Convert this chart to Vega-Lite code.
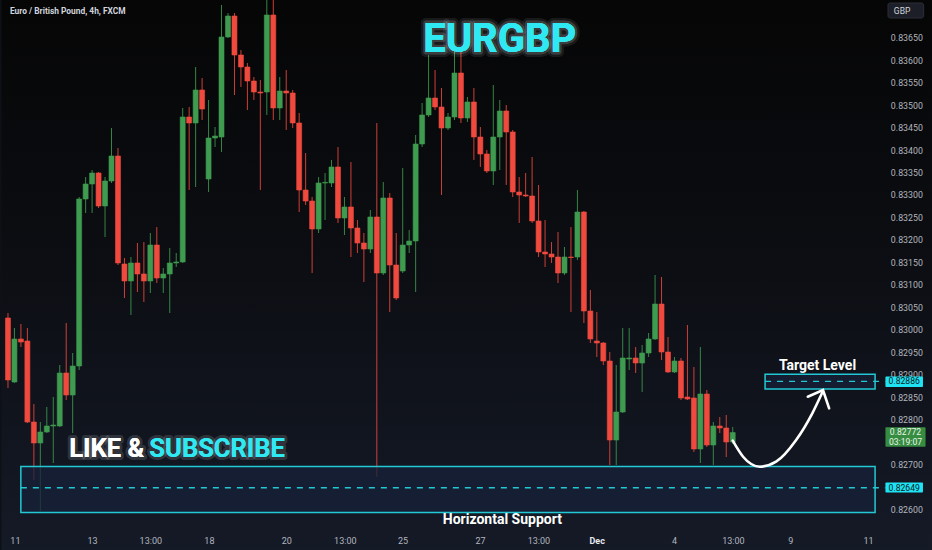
{
  "$schema": "https://vega.github.io/schema/vega-lite/v6.json",
  "width": 885,
  "height": 530,
  "autosize": {"type": "none"},
  "padding": {"left": 0, "top": 0, "right": 47, "bottom": 20},
  "background": "#0d1017",
  "config": {"view": {"stroke": null}},
  "datasets": {
    "candles": [
      {"i":0,"o":0.830271,"h":0.830382,"l":0.828712,"c":0.82889},
      {"i":1,"o":0.828845,"h":0.830048,"l":0.828823,"c":0.829803},
      {"i":2,"o":0.829803,"h":0.830137,"l":0.829625,"c":0.829736},
      {"i":3,"o":0.829758,"h":0.830048,"l":0.827932,"c":0.827954},
      {"i":4,"o":0.827954,"h":0.828355,"l":0.826662,"c":0.827487},
      {"i":5,"o":0.827487,"h":0.827954,"l":0.825972,"c":0.827732},
      {"i":6,"o":0.827732,"h":0.828288,"l":0.827709,"c":0.827865},
      {"i":7,"o":0.827865,"h":0.828511,"l":0.827041,"c":0.827887},
      {"i":8,"o":0.827865,"h":0.829224,"l":0.827843,"c":0.829046},
      {"i":9,"o":0.829046,"h":0.830159,"l":0.828444,"c":0.828556},
      {"i":10,"o":0.828556,"h":0.829491,"l":0.827709,"c":0.829201},
      {"i":11,"o":0.829201,"h":0.832965,"l":0.829112,"c":0.832921},
      {"i":12,"o":0.832921,"h":0.833411,"l":0.832609,"c":0.833255},
      {"i":13,"o":0.833255,"h":0.833567,"l":0.832609,"c":0.8335},
      {"i":14,"o":0.8335,"h":0.833522,"l":0.83272,"c":0.832765},
      {"i":15,"o":0.832765,"h":0.833411,"l":0.832075,"c":0.833322},
      {"i":16,"o":0.833322,"h":0.834502,"l":0.833277,"c":0.833879},
      {"i":17,"o":0.833879,"h":0.834057,"l":0.831451,"c":0.831496},
      {"i":18,"o":0.831473,"h":0.831607,"l":0.830716,"c":0.831095},
      {"i":19,"o":0.831095,"h":0.831629,"l":0.830337,"c":0.831496},
      {"i":20,"o":0.831496,"h":0.831941,"l":0.83085,"c":0.831251},
      {"i":21,"o":0.831251,"h":0.831963,"l":0.830627,"c":0.831095},
      {"i":22,"o":0.831095,"h":0.832164,"l":0.830827,"c":0.831896},
      {"i":23,"o":0.831896,"h":0.832297,"l":0.83105,"c":0.831161},
      {"i":24,"o":0.831161,"h":0.831384,"l":0.830827,"c":0.831251},
      {"i":25,"o":0.831251,"h":0.83183,"l":0.830382,"c":0.831496},
      {"i":26,"o":0.831496,"h":0.831718,"l":0.831406,"c":0.831518},
      {"i":27,"o":0.831518,"h":0.834948,"l":0.831496,"c":0.834747},
      {"i":28,"o":0.834747,"h":0.83497,"l":0.833121,"c":0.834614},
      {"i":29,"o":0.834614,"h":0.835861,"l":0.833188,"c":0.835349},
      {"i":30,"o":0.835349,"h":0.835616,"l":0.83468,"c":0.834925},
      {"i":31,"o":0.833366,"h":0.835126,"l":0.833077,"c":0.834279},
      {"i":32,"o":0.834279,"h":0.834524,"l":0.834079,"c":0.834324},
      {"i":33,"o":0.834302,"h":0.837242,"l":0.833968,"c":0.836529},
      {"i":34,"o":0.836529,"h":0.837063,"l":0.836507,"c":0.836997},
      {"i":35,"o":0.836997,"h":0.837063,"l":0.835237,"c":0.836128},
      {"i":36,"o":0.836128,"h":0.836239,"l":0.835415,"c":0.835861},
      {"i":37,"o":0.835861,"h":0.83595,"l":0.834903,"c":0.835549},
      {"i":38,"o":0.835549,"h":0.835638,"l":0.835126,"c":0.835304},
      {"i":39,"o":0.835304,"h":0.835571,"l":0.833121,"c":0.835282},
      {"i":40,"o":0.835304,"h":0.83745,"l":0.834792,"c":0.837019},
      {"i":41,"o":0.837019,"h":0.83745,"l":0.83468,"c":0.834948},
      {"i":42,"o":0.834948,"h":0.835638,"l":0.83468,"c":0.835326},
      {"i":43,"o":0.835326,"h":0.835794,"l":0.834458,"c":0.835282},
      {"i":44,"o":0.835282,"h":0.835349,"l":0.834502,"c":0.834614},
      {"i":45,"o":0.834614,"h":0.834836,"l":0.832631,"c":0.833121},
      {"i":46,"o":0.833121,"h":0.833945,"l":0.832787,"c":0.832876},
      {"i":47,"o":0.832876,"h":0.832965,"l":0.831273,"c":0.832253},
      {"i":48,"o":0.832253,"h":0.833411,"l":0.832164,"c":0.833277},
      {"i":49,"o":0.833277,"h":0.8335,"l":0.832453,"c":0.83329},
      {"i":50,"o":0.833277,"h":0.83379,"l":0.833188,"c":0.833634},
      {"i":51,"o":0.833634,"h":0.834079,"l":0.832386,"c":0.832498},
      {"i":52,"o":0.832498,"h":0.832965,"l":0.832119,"c":0.832743},
      {"i":53,"o":0.832743,"h":0.833745,"l":0.831629,"c":0.832275},
      {"i":54,"o":0.832275,"h":0.832453,"l":0.831718,"c":0.831941},
      {"i":55,"o":0.831941,"h":0.832164,"l":0.831072,"c":0.831807},
      {"i":56,"o":0.831807,"h":0.832676,"l":0.831718,"c":0.83252},
      {"i":57,"o":0.83252,"h":0.834614,"l":0.826729,"c":0.831273},
      {"i":58,"o":0.831273,"h":0.8333,"l":0.831228,"c":0.832943},
      {"i":59,"o":0.832943,"h":0.833055,"l":0.830404,"c":0.831451},
      {"i":60,"o":0.831451,"h":0.832164,"l":0.830671,"c":0.830716},
      {"i":61,"o":0.831317,"h":0.833611,"l":0.831273,"c":0.831896},
      {"i":62,"o":0.831896,"h":0.83223,"l":0.831718,"c":0.831985},
      {"i":63,"o":0.831985,"h":0.834346,"l":0.83085,"c":0.834146},
      {"i":64,"o":0.834146,"h":0.835059,"l":0.834079,"c":0.834792},
      {"i":65,"o":0.834792,"h":0.836128,"l":0.834747,"c":0.83517},
      {"i":66,"o":0.83517,"h":0.835794,"l":0.834903,"c":0.83497},
      {"i":67,"o":0.83497,"h":0.835393,"l":0.83301,"c":0.834502},
      {"i":68,"o":0.834502,"h":0.834836,"l":0.834458,"c":0.834747},
      {"i":69,"o":0.834747,"h":0.836239,"l":0.83468,"c":0.835727},
      {"i":70,"o":0.835727,"h":0.836195,"l":0.834614,"c":0.834725},
      {"i":71,"o":0.834725,"h":0.835193,"l":0.834636,"c":0.835081},
      {"i":72,"o":0.835081,"h":0.835393,"l":0.83379,"c":0.834302},
      {"i":73,"o":0.834302,"h":0.834524,"l":0.833634,"c":0.833923},
      {"i":74,"o":0.833923,"h":0.834012,"l":0.8335,"c":0.833545},
      {"i":75,"o":0.833545,"h":0.83546,"l":0.833233,"c":0.834302},
      {"i":76,"o":0.834302,"h":0.835126,"l":0.833567,"c":0.834881},
      {"i":77,"o":0.834881,"h":0.835014,"l":0.833233,"c":0.834413},
      {"i":78,"o":0.834413,"h":0.834458,"l":0.832965,"c":0.833077},
      {"i":79,"o":0.833077,"h":0.833411,"l":0.832386,"c":0.83301},
      {"i":80,"o":0.83301,"h":0.8335,"l":0.832965,"c":0.832988},
      {"i":81,"o":0.832988,"h":0.833856,"l":0.832386,"c":0.832431},
      {"i":82,"o":0.832431,"h":0.833233,"l":0.831629,"c":0.831741},
      {"i":83,"o":0.831741,"h":0.832453,"l":0.831406,"c":0.831696},
      {"i":84,"o":0.831696,"h":0.831963,"l":0.831496,"c":0.831629},
      {"i":85,"o":0.831629,"h":0.832186,"l":0.83105,"c":0.831273},
      {"i":86,"o":0.831273,"h":0.831852,"l":0.831228,"c":0.831629},
      {"i":87,"o":0.831629,"h":0.832297,"l":0.830404,"c":0.831618},
      {"i":88,"o":0.831629,"h":0.833121,"l":0.831562,"c":0.832631},
      {"i":89,"o":0.832631,"h":0.832654,"l":0.830159,"c":0.830426},
      {"i":90,"o":0.830426,"h":0.830894,"l":0.829714,"c":0.829803},
      {"i":91,"o":0.829758,"h":0.830404,"l":0.829402,"c":0.829714},
      {"i":92,"o":0.829714,"h":0.829736,"l":0.829224,"c":0.829313},
      {"i":93,"o":0.829313,"h":0.829513,"l":0.826997,"c":0.827553},
      {"i":94,"o":0.827553,"h":0.829224,"l":0.826997,"c":0.828177},
      {"i":95,"o":0.828177,"h":0.830048,"l":0.828155,"c":0.82938},
      {"i":96,"o":0.829357,"h":0.830048,"l":0.829112,"c":0.82938},
      {"i":97,"o":0.82938,"h":0.829625,"l":0.829046,"c":0.829268},
      {"i":98,"o":0.829268,"h":0.829669,"l":0.828622,"c":0.829491},
      {"i":99,"o":0.829491,"h":0.829936,"l":0.829402,"c":0.829803},
      {"i":100,"o":0.829803,"h":0.831228,"l":0.82978,"c":0.830582},
      {"i":101,"o":0.830582,"h":0.831184,"l":0.829335,"c":0.829513},
      {"i":102,"o":0.829513,"h":0.829847,"l":0.829046,"c":0.829068},
      {"i":103,"o":0.829068,"h":0.829402,"l":0.829046,"c":0.829313},
      {"i":104,"o":0.829313,"h":0.82938,"l":0.828444,"c":0.828489},
      {"i":105,"o":0.828511,"h":0.830115,"l":0.828444,"c":0.828466},
      {"i":106,"o":0.828489,"h":0.829179,"l":0.827286,"c":0.827353},
      {"i":107,"o":0.827353,"h":0.829625,"l":0.827041,"c":0.828578},
      {"i":108,"o":0.828578,"h":0.828667,"l":0.827397,"c":0.827442},
      {"i":109,"o":0.827442,"h":0.827954,"l":0.826997,"c":0.827865},
      {"i":110,"o":0.827865,"h":0.828066,"l":0.827709,"c":0.827821},
      {"i":111,"o":0.827821,"h":0.82811,"l":0.827175,"c":0.827509},
      {"i":112,"o":0.827509,"h":0.827843,"l":0.827464,"c":0.82772}
    ],
    "yticks": [
      {"p":0.826,"t":"0.82600"},{"p":0.827,"t":"0.82700"},{"p":0.828,"t":"0.82800"},{"p":0.8285,"t":"0.82850"},
      {"p":0.829,"t":"0.82900"},{"p":0.8295,"t":"0.82950"},{"p":0.83,"t":"0.83000"},{"p":0.8305,"t":"0.83050"},
      {"p":0.831,"t":"0.83100"},{"p":0.8315,"t":"0.83150"},{"p":0.832,"t":"0.83200"},{"p":0.8325,"t":"0.83250"},
      {"p":0.833,"t":"0.83300"},{"p":0.8335,"t":"0.83350"},{"p":0.834,"t":"0.83400"},{"p":0.8345,"t":"0.83450"},
      {"p":0.835,"t":"0.83500"},{"p":0.8355,"t":"0.83550"},{"p":0.836,"t":"0.83600"},{"p":0.8365,"t":"0.83650"}
    ],
    "xticks": [
      {"i":1.15,"t":"11"},{"i":13.06,"t":"13"},{"i":22.07,"t":"13:00"},{"i":31.13,"t":"18"},{"i":43.09,"t":"20"},
      {"i":52.13,"t":"13:00"},{"i":61.04,"t":"25"},{"i":73.03,"t":"27"},{"i":82.05,"t":"13:00"},{"i":91.06,"t":"Dec"},
      {"i":103,"t":"4"},{"i":112.1,"t":"13:00"},{"i":120.96,"t":"9"},{"i":133,"t":"11"}
    ],
    "zones": [
      {"name":"support","i":1.99,"i2":134.0,"p":0.826963,"p2":0.825939},
      {"name":"target","i":117.0,"i2":134.0,"p":0.829017,"p2":0.828689}
    ],
    "levels": [
      {"name":"support","i":1.99,"i2":135.6,"p":0.82649},
      {"name":"target","i":117.0,"i2":135.6,"p":0.82886}
    ],
    "arrow": [
      {"k":0,"i":112.0,"p":0.827538},
      {"k":1,"i":113.6,"p":0.827181},
      {"k":2,"i":116.2,"p":0.826959},
      {"k":3,"i":118.7,"p":0.82707},
      {"k":4,"i":121.8,"p":0.827553},
      {"k":5,"i":124.3,"p":0.828148},
      {"k":6,"i":125.9,"p":0.828629}
    ],
    "head": [
      {"k":0,"i":123.6,"p":0.828518},
      {"k":1,"i":125.95,"p":0.828667},
      {"k":2,"i":126.9,"p":0.828259}
    ],
    "tags": [
      {"kind":"level","i":135.6,"i2":141.4,"p":0.828968,"p2":0.828734},
      {"kind":"level","i":135.6,"i2":141.4,"p":0.826607,"p2":0.826384},
      {"kind":"last","i":135.6,"i2":141.8,"p":0.827836,"p2":0.827404}
    ],
    "tagtext": [
      {"kind":"level","i":138.5,"p":0.82886,"t":"0.82886"},
      {"kind":"level","i":138.5,"p":0.82649,"t":"0.82649"},
      {"kind":"last","i":138.7,"p":0.827731,"t":"0.82772"},
      {"kind":"last","i":138.7,"p":0.82752,"t":"03:19:07"}
    ]
  },
  "layer": [
    {
      "data": {"values": [{}]},
      "mark": {"type": "rect", "fill": {"gradient": "linear", "x1": 0, "y1": 0, "x2": 0, "y2": 1, "stops": [{"offset": 0, "color": "#050505"}, {"offset": 0.5, "color": "#0c0e13"}, {"offset": 1, "color": "#151a27"}]}},
      "encoding": {
        "x": {"datum": -1, "type": "quantitative", "scale": {"domain": [-0.46, 134.76], "nice": false, "zero": false}, "axis": null},
        "x2": {"datum": 143},
        "y": {"datum": 0.8378, "type": "quantitative", "scale": {"domain": [0.825549, 0.837353], "nice": false, "zero": false}, "axis": null},
        "y2": {"datum": 0.825}
      }
    },
    {
      "data": {"name": "yticks"},
      "mark": {"type": "text", "align": "left", "baseline": "middle", "font": "Roboto, sans-serif", "fontSize": 8.8, "color": "#b2b5be"},
      "encoding": {
        "x": {"datum": 136.44, "type": "quantitative", "scale": {"domain": [-0.46, 134.76], "nice": false, "zero": false}, "axis": null},
        "y": {"field": "p", "type": "quantitative", "scale": {"domain": [0.825549, 0.837353], "nice": false, "zero": false}, "axis": null},
        "text": {"field": "t"}
      }
    },
    {
      "data": {"name": "xticks"},
      "transform": [{"filter": "datum.t != 'Dec'"}],
      "mark": {"type": "text", "align": "center", "baseline": "middle", "font": "Roboto, sans-serif", "fontSize": 9, "color": "#b2b5be"},
      "encoding": {
        "x": {"field": "i", "type": "quantitative", "scale": {"domain": [-0.46, 134.76], "nice": false, "zero": false}, "axis": null},
        "y": {"datum": 0.825304, "type": "quantitative", "scale": {"domain": [0.825549, 0.837353], "nice": false, "zero": false}, "axis": null},
        "text": {"field": "t"}
      }
    },
    {
      "data": {"name": "xticks"},
      "transform": [{"filter": "datum.t == 'Dec'"}],
      "mark": {"type": "text", "align": "center", "baseline": "middle", "font": "Roboto, sans-serif", "fontSize": 9, "fontWeight": "bold", "color": "#e6e8ee"},
      "encoding": {
        "x": {"field": "i", "type": "quantitative", "scale": {"domain": [-0.46, 134.76], "nice": false, "zero": false}, "axis": null},
        "y": {"datum": 0.825304, "type": "quantitative", "scale": {"domain": [0.825549, 0.837353], "nice": false, "zero": false}, "axis": null},
        "text": {"field": "t"}
      }
    },
    {
      "data": {"name": "candles"},
      "mark": {"type": "rule", "strokeWidth": 1, "opacity": 0.85},
      "encoding": {
        "x": {"field": "i", "type": "quantitative", "scale": {"domain": [-0.46, 134.76], "nice": false, "zero": false}, "axis": null},
        "y": {"field": "l", "type": "quantitative", "scale": {"domain": [0.825549, 0.837353], "nice": false, "zero": false}, "axis": null},
        "y2": {"field": "h"},
        "color": {"condition": {"test": "datum.c >= datum.o", "value": "#3e9b4f"}, "value": "#f0493e"}
      }
    },
    {
      "data": {"name": "candles"},
      "mark": {"type": "bar", "size": 5, "strokeWidth": 0.6},
      "encoding": {
        "x": {"field": "i", "type": "quantitative", "scale": {"domain": [-0.46, 134.76], "nice": false, "zero": false}, "axis": null},
        "y": {"field": "o", "type": "quantitative", "scale": {"domain": [0.825549, 0.837353], "nice": false, "zero": false}, "axis": null},
        "y2": {"field": "c"},
        "color": {"condition": {"test": "datum.c >= datum.o", "value": "#3e9b4f"}, "value": "#f0493e"},
        "stroke": {"condition": {"test": "datum.c >= datum.o", "value": "#3e9b4f"}, "value": "#f0493e"}
      }
    },
    {
      "data": {"name": "zones"},
      "mark": {"type": "rect", "fill": "#17213a", "fillOpacity": 0.75, "stroke": "#22c9d5", "strokeWidth": 1.5},
      "encoding": {
        "x": {"field": "i", "type": "quantitative", "scale": {"domain": [-0.46, 134.76], "nice": false, "zero": false}, "axis": null},
        "x2": {"field": "i2"},
        "y": {"field": "p", "type": "quantitative", "scale": {"domain": [0.825549, 0.837353], "nice": false, "zero": false}, "axis": null},
        "y2": {"field": "p2"}
      }
    },
    {
      "data": {"name": "levels"},
      "mark": {"type": "rule", "color": "#22c9d5", "strokeWidth": 1.3, "strokeDash": [6, 6]},
      "encoding": {
        "x": {"field": "i", "type": "quantitative", "scale": {"domain": [-0.46, 134.76], "nice": false, "zero": false}, "axis": null},
        "x2": {"field": "i2"},
        "y": {"field": "p", "type": "quantitative", "scale": {"domain": [0.825549, 0.837353], "nice": false, "zero": false}, "axis": null}
      }
    },
    {
      "data": {"name": "arrow"},
      "mark": {"type": "line", "color": "#ffffff", "strokeWidth": 2.6, "interpolate": "monotone", "strokeCap": "round"},
      "encoding": {
        "x": {"field": "i", "type": "quantitative", "scale": {"domain": [-0.46, 134.76], "nice": false, "zero": false}, "axis": null},
        "y": {"field": "p", "type": "quantitative", "scale": {"domain": [0.825549, 0.837353], "nice": false, "zero": false}, "axis": null},
        "order": {"field": "k"}
      }
    },
    {
      "data": {"name": "head"},
      "mark": {"type": "line", "color": "#ffffff", "strokeWidth": 2.6, "strokeCap": "round", "strokeJoin": "miter"},
      "encoding": {
        "x": {"field": "i", "type": "quantitative", "scale": {"domain": [-0.46, 134.76], "nice": false, "zero": false}, "axis": null},
        "y": {"field": "p", "type": "quantitative", "scale": {"domain": [0.825549, 0.837353], "nice": false, "zero": false}, "axis": null},
        "order": {"field": "k"}
      }
    },
    {
      "data": {"name": "tags"},
      "mark": {"type": "rect", "cornerRadius": 1},
      "encoding": {
        "x": {"field": "i", "type": "quantitative", "scale": {"domain": [-0.46, 134.76], "nice": false, "zero": false}, "axis": null},
        "x2": {"field": "i2"},
        "y": {"field": "p", "type": "quantitative", "scale": {"domain": [0.825549, 0.837353], "nice": false, "zero": false}, "axis": null},
        "y2": {"field": "p2"},
        "color": {"condition": {"test": "datum.kind == 'last'", "value": "#368c40"}, "value": "#1fe3f2"}
      }
    },
    {
      "data": {"name": "tagtext"},
      "mark": {"type": "text", "align": "center", "baseline": "middle", "font": "Roboto, sans-serif", "fontSize": 8.6},
      "encoding": {
        "x": {"field": "i", "type": "quantitative", "scale": {"domain": [-0.46, 134.76], "nice": false, "zero": false}, "axis": null},
        "y": {"field": "p", "type": "quantitative", "scale": {"domain": [0.825549, 0.837353], "nice": false, "zero": false}, "axis": null},
        "text": {"field": "t"},
        "color": {"condition": {"test": "datum.kind == 'last'", "value": "#e8f5e9"}, "value": "#0b1a26"}
      }
    },
    {
      "data": {"values": [{}]},
      "mark": {"type": "rect", "fill": "#1c1f27", "stroke": "#2a2e39", "strokeWidth": 1, "cornerRadius": 2},
      "encoding": {
        "x": {"datum": 136.0, "type": "quantitative", "scale": {"domain": [-0.46, 134.76], "nice": false, "zero": false}, "axis": null},
        "x2": {"datum": 141.5},
        "y": {"datum": 0.837286, "type": "quantitative", "scale": {"domain": [0.825549, 0.837353], "nice": false, "zero": false}, "axis": null},
        "y2": {"datum": 0.836952}
      }
    },
    {
      "data": {"values": [{"t": "GBP"}]},
      "mark": {"type": "text", "align": "left", "baseline": "middle", "font": "Roboto, sans-serif", "fontSize": 8.5, "color": "#d1d4dc"},
      "encoding": {
        "x": {"datum": 136.9, "type": "quantitative", "scale": {"domain": [-0.46, 134.76], "nice": false, "zero": false}, "axis": null},
        "y": {"datum": 0.837119, "type": "quantitative", "scale": {"domain": [0.825549, 0.837353], "nice": false, "zero": false}, "axis": null},
        "text": {"field": "t"}
      }
    },
    {
      "data": {"values": [{"t": "Euro / British Pound, 4h, FXCM"}]},
      "mark": {"type": "text", "align": "left", "baseline": "middle", "font": "Roboto, sans-serif", "fontSize": 8.4, "fontWeight": "bold", "color": "#d1d4dc"},
      "encoding": {
        "x": {"datum": 0.31, "type": "quantitative", "scale": {"domain": [-0.46, 134.76], "nice": false, "zero": false}, "axis": null},
        "y": {"datum": 0.837119, "type": "quantitative", "scale": {"domain": [0.825549, 0.837353], "nice": false, "zero": false}, "axis": null},
        "text": {"field": "t"}
      }
    },
    {
      "data": {"values": [{"t": "EURGBP"}]},
      "mark": {"type": "text", "align": "center", "baseline": "alphabetic", "font": "Roboto, sans-serif", "fontSize": 40, "fontWeight": "bold", "fill": "#2ee8f2", "stroke": "#cfd8dc", "strokeWidth": 10, "strokeOpacity": 0.1, "strokeJoin": "round"},
      "encoding": {
        "x": {"datum": 76.0, "type": "quantitative", "scale": {"domain": [-0.46, 134.76], "nice": false, "zero": false}, "axis": null},
        "y": {"datum": 0.836202, "type": "quantitative", "scale": {"domain": [0.825549, 0.837353], "nice": false, "zero": false}, "axis": null},
        "text": {"field": "t"}
      }
    },
    {
      "data": {"values": [{"t": "EURGBP"}]},
      "mark": {"type": "text", "align": "center", "baseline": "alphabetic", "font": "Roboto, sans-serif", "fontSize": 40, "fontWeight": "bold", "fill": "#2ee8f2", "stroke": "#ffffff", "strokeWidth": 5, "strokeOpacity": 0.18, "strokeJoin": "round"},
      "encoding": {
        "x": {"datum": 76.0, "type": "quantitative", "scale": {"domain": [-0.46, 134.76], "nice": false, "zero": false}, "axis": null},
        "y": {"datum": 0.836202, "type": "quantitative", "scale": {"domain": [0.825549, 0.837353], "nice": false, "zero": false}, "axis": null},
        "text": {"field": "t"}
      }
    },
    {
      "data": {"values": [{"t": "EURGBP"}]},
      "mark": {"type": "text", "align": "center", "baseline": "alphabetic", "font": "Roboto, sans-serif", "fontSize": 40, "fontWeight": "bold", "color": "#2ee8f2"},
      "encoding": {
        "x": {"datum": 76.0, "type": "quantitative", "scale": {"domain": [-0.46, 134.76], "nice": false, "zero": false}, "axis": null},
        "y": {"datum": 0.836202, "type": "quantitative", "scale": {"domain": [0.825549, 0.837353], "nice": false, "zero": false}, "axis": null},
        "text": {"field": "t"}
      }
    },
    {
      "data": {"values": [{"t": "LIKE &"}]},
      "mark": {"type": "text", "align": "left", "baseline": "alphabetic", "font": "Roboto, sans-serif", "fontSize": 25.5, "fontWeight": "bold", "fill": "#ffffff", "stroke": "#ffffff", "strokeWidth": 6, "strokeOpacity": 0.15, "strokeJoin": "round"},
      "encoding": {
        "x": {"datum": 9.47, "type": "quantitative", "scale": {"domain": [-0.46, 134.76], "nice": false, "zero": false}, "axis": null},
        "y": {"datum": 0.827175, "type": "quantitative", "scale": {"domain": [0.825549, 0.837353], "nice": false, "zero": false}, "axis": null},
        "text": {"field": "t"}
      }
    },
    {
      "data": {"values": [{"t": "LIKE &"}]},
      "mark": {"type": "text", "align": "left", "baseline": "alphabetic", "font": "Roboto, sans-serif", "fontSize": 25.5, "fontWeight": "bold", "color": "#ffffff"},
      "encoding": {
        "x": {"datum": 9.47, "type": "quantitative", "scale": {"domain": [-0.46, 134.76], "nice": false, "zero": false}, "axis": null},
        "y": {"datum": 0.827175, "type": "quantitative", "scale": {"domain": [0.825549, 0.837353], "nice": false, "zero": false}, "axis": null},
        "text": {"field": "t"}
      }
    },
    {
      "data": {"values": [{"t": "SUBSCRIBE"}]},
      "mark": {"type": "text", "align": "left", "baseline": "alphabetic", "font": "Roboto, sans-serif", "fontSize": 25.5, "fontWeight": "bold", "fill": "#2ee8f2", "stroke": "#ffffff", "strokeWidth": 6, "strokeOpacity": 0.15, "strokeJoin": "round"},
      "encoding": {
        "x": {"datum": 21.85, "type": "quantitative", "scale": {"domain": [-0.46, 134.76], "nice": false, "zero": false}, "axis": null},
        "y": {"datum": 0.827175, "type": "quantitative", "scale": {"domain": [0.825549, 0.837353], "nice": false, "zero": false}, "axis": null},
        "text": {"field": "t"}
      }
    },
    {
      "data": {"values": [{"t": "SUBSCRIBE"}]},
      "mark": {"type": "text", "align": "left", "baseline": "alphabetic", "font": "Roboto, sans-serif", "fontSize": 25.5, "fontWeight": "bold", "color": "#2ee8f2"},
      "encoding": {
        "x": {"datum": 21.85, "type": "quantitative", "scale": {"domain": [-0.46, 134.76], "nice": false, "zero": false}, "axis": null},
        "y": {"datum": 0.827175, "type": "quantitative", "scale": {"domain": [0.825549, 0.837353], "nice": false, "zero": false}, "axis": null},
        "text": {"field": "t"}
      }
    },
    {
      "data": {"values": [{"t": "Target Level"}]},
      "mark": {"type": "text", "align": "center", "baseline": "alphabetic", "font": "Roboto, sans-serif", "fontSize": 14, "fontWeight": "bold", "color": "#ffffff"},
      "encoding": {
        "x": {"datum": 125.1, "type": "quantitative", "scale": {"domain": [-0.46, 134.76], "nice": false, "zero": false}, "axis": null},
        "y": {"datum": 0.829112, "type": "quantitative", "scale": {"domain": [0.825549, 0.837353], "nice": false, "zero": false}, "axis": null},
        "text": {"field": "t"}
      }
    },
    {
      "data": {"values": [{"t": "Horizontal Support"}]},
      "mark": {"type": "text", "align": "center", "baseline": "alphabetic", "font": "Roboto, sans-serif", "fontSize": 14, "fontWeight": "bold", "color": "#ffffff"},
      "encoding": {
        "x": {"datum": 76.4, "type": "quantitative", "scale": {"domain": [-0.46, 134.76], "nice": false, "zero": false}, "axis": null},
        "y": {"datum": 0.825682, "type": "quantitative", "scale": {"domain": [0.825549, 0.837353], "nice": false, "zero": false}, "axis": null},
        "text": {"field": "t"}
      }
    }
  ]
}
